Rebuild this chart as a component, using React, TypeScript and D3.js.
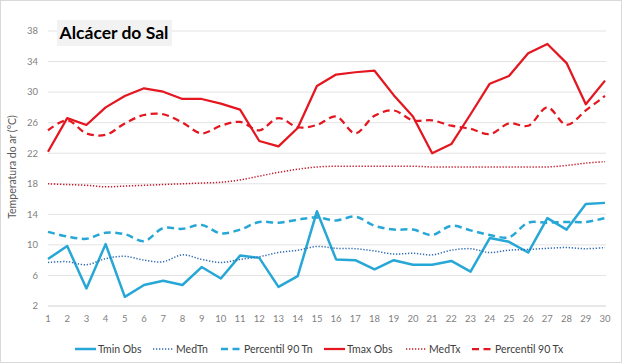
import * as d3 from 'd3'

const days = d3.range(1, 31)

const tminObs = [8.15, 9.85, 4.3, 10.1, 3.2, 4.75, 5.3, 4.75, 7.1, 5.6, 8.6, 8.3, 4.5, 5.9, 14.4, 8.1, 8.0, 6.8, 8.0, 7.4, 7.4, 7.9, 6.5, 10.9, 10.4, 9.0, 13.5, 12.0, 15.35, 15.5]
const medTn = [7.7, 7.8, 7.4, 8.2, 8.5, 8.0, 7.8, 8.7, 8.1, 7.7, 8.1, 8.45, 9.0, 9.3, 9.8, 9.55, 9.5, 9.2, 8.8, 8.9, 8.7, 9.3, 9.5, 9.0, 9.3, 9.4, 9.55, 9.65, 9.5, 9.65]
const p90Tn = [11.7, 11.1, 10.8, 11.6, 11.4, 10.5, 12.2, 12.1, 12.6, 11.5, 12.0, 13.0, 12.9, 13.3, 13.6, 13.2, 13.7, 12.5, 12.0, 12.0, 11.3, 12.5, 11.9, 11.3, 11.0, 12.9, 12.9, 13.0, 13.0, 13.5]
const tmaxObs = [22.2, 26.6, 25.7, 28.0, 29.5, 30.5, 30.05, 29.1, 29.1, 28.5, 27.7, 23.6, 22.9, 25.3, 30.8, 32.3, 32.6, 32.8, 29.6, 26.8, 22.0, 23.2, 27.1, 31.1, 32.1, 35.1, 36.3, 33.8, 28.4, 31.5]
const medTx = [18.0, 17.9, 17.8, 17.6, 17.7, 17.8, 17.9, 18.0, 18.1, 18.2, 18.5, 19.0, 19.5, 19.9, 20.2, 20.3, 20.3, 20.3, 20.3, 20.3, 20.2, 20.2, 20.2, 20.2, 20.2, 20.2, 20.2, 20.4, 20.7, 20.9]
const p90Tx = [25.0, 26.3, 24.6, 24.4, 25.9, 27.0, 27.1, 26.0, 24.6, 25.6, 26.1, 25.0, 26.6, 25.4, 25.7, 26.8, 24.6, 26.9, 27.6, 26.3, 26.3, 25.6, 25.2, 24.5, 25.9, 25.6, 28.0, 25.7, 27.6, 29.5]

const yTicks = [2, 6, 10, 14, 18, 22, 26, 30, 34, 38]

const RED = '#e4161f'
const BLUE = '#27a7d6'
const DARK_BLUE = '#2f6db3'
const DARK_RED = '#c3192b'

type Series = {
  name: string
  values: number[]
  color: string
  width: number
  dash?: string
  smooth: boolean
}

const series: Series[] = [
  { name: 'Tmin Obs', values: tminObs, color: BLUE, width: 2.5, smooth: false },
  { name: 'MedTn', values: medTn, color: DARK_BLUE, width: 1.5, dash: '1.3,1.7', smooth: true },
  { name: 'Percentil 90 Tn', values: p90Tn, color: BLUE, width: 2.5, dash: '7,4.5', smooth: true },
  { name: 'Tmax Obs', values: tmaxObs, color: RED, width: 2.25, smooth: false },
  { name: 'MedTx', values: medTx, color: DARK_RED, width: 1.5, dash: '1.3,1.7', smooth: true },
  { name: 'Percentil 90 Tx', values: p90Tx, color: RED, width: 2.25, dash: '7,4.5', smooth: true },
]

// legend item x positions (line start)
const legendX = [75, 153, 221, 324, 406, 472]

export default function App() {
  const width = 623
  const height = 364
  const font = "Lato, 'Open Sans', sans-serif"

  const x = d3.scaleLinear().domain([1, 30]).range([48, 605])
  const y = d3.scaleLinear().domain([2, 38]).range([306, 31])

  const lineFor = (s: Series) =>
    d3
      .line<number>()
      .x((_, i) => x(days[i]))
      .y((v) => y(v))
      .curve(s.smooth ? d3.curveCatmullRom.alpha(0.5) : d3.curveLinear)(s.values) ?? ''

  return (
    <svg
      width={width}
      height={height}
      style={{ position: 'absolute', left: 0, top: 0, background: '#fff' }}
      fontFamily={font}
    >
      <rect x={0.5} y={0.5} width={width - 2} height={height - 2} fill="#fff" stroke="#d9d9d9" />

      {/* gridlines */}
      {yTicks.map((t) => (
        <line key={t} x1={48} x2={606} y1={y(t)} y2={y(t)} stroke={t === 2 ? '#d0d0d0' : '#e3e3e3'} strokeWidth={1} />
      ))}

      {/* y tick labels */}
      {yTicks.map((t) => (
        <text key={t} x={38} y={y(t)} dy="0.35em" textAnchor="end" fontSize={9.5} fill="#7f7f7f">
          {t}
        </text>
      ))}

      {/* x tick labels */}
      {days.map((d) => (
        <text key={d} x={x(d)} y={319} dy="0.35em" textAnchor="middle" fontSize={9.5} fill="#7f7f7f">
          {d}
        </text>
      ))}

      <text
        transform={`translate(12,167) rotate(-90)`}
        textAnchor="middle"
        dy="0.35em"
        fontSize={10.5}
        fill="#595959"
      >
        Temperatura do ar (°C)
      </text>

      {/* series */}
      {series.map((s) => (
        <path
          key={s.name}
          d={lineFor(s)}
          fill="none"
          stroke={s.color}
          strokeWidth={s.width}
          strokeDasharray={s.dash}
          strokeLinejoin="round"
        />
      ))}

      {/* title */}
      <rect x={57} y={20} width={115} height={26} fill="#f2f2f2" />
      <text x={114} y={33} dy="0.35em" textAnchor="middle" fontSize={17.5} fontWeight="bold" fill="#000">
        Alcácer do Sal
      </text>

      {/* legend */}
      {series.map((s, i) => (
        <g key={s.name} transform={`translate(${legendX[i]},349)`}>
          <line x1={0} x2={21} y1={0} y2={0} stroke={s.color} strokeWidth={s.width} strokeDasharray={s.dash} />
          <text x={23} y={0} dy="0.35em" fontSize={10.5} fill="#404040">
            {s.name}
          </text>
        </g>
      ))}
    </svg>
  )
}
